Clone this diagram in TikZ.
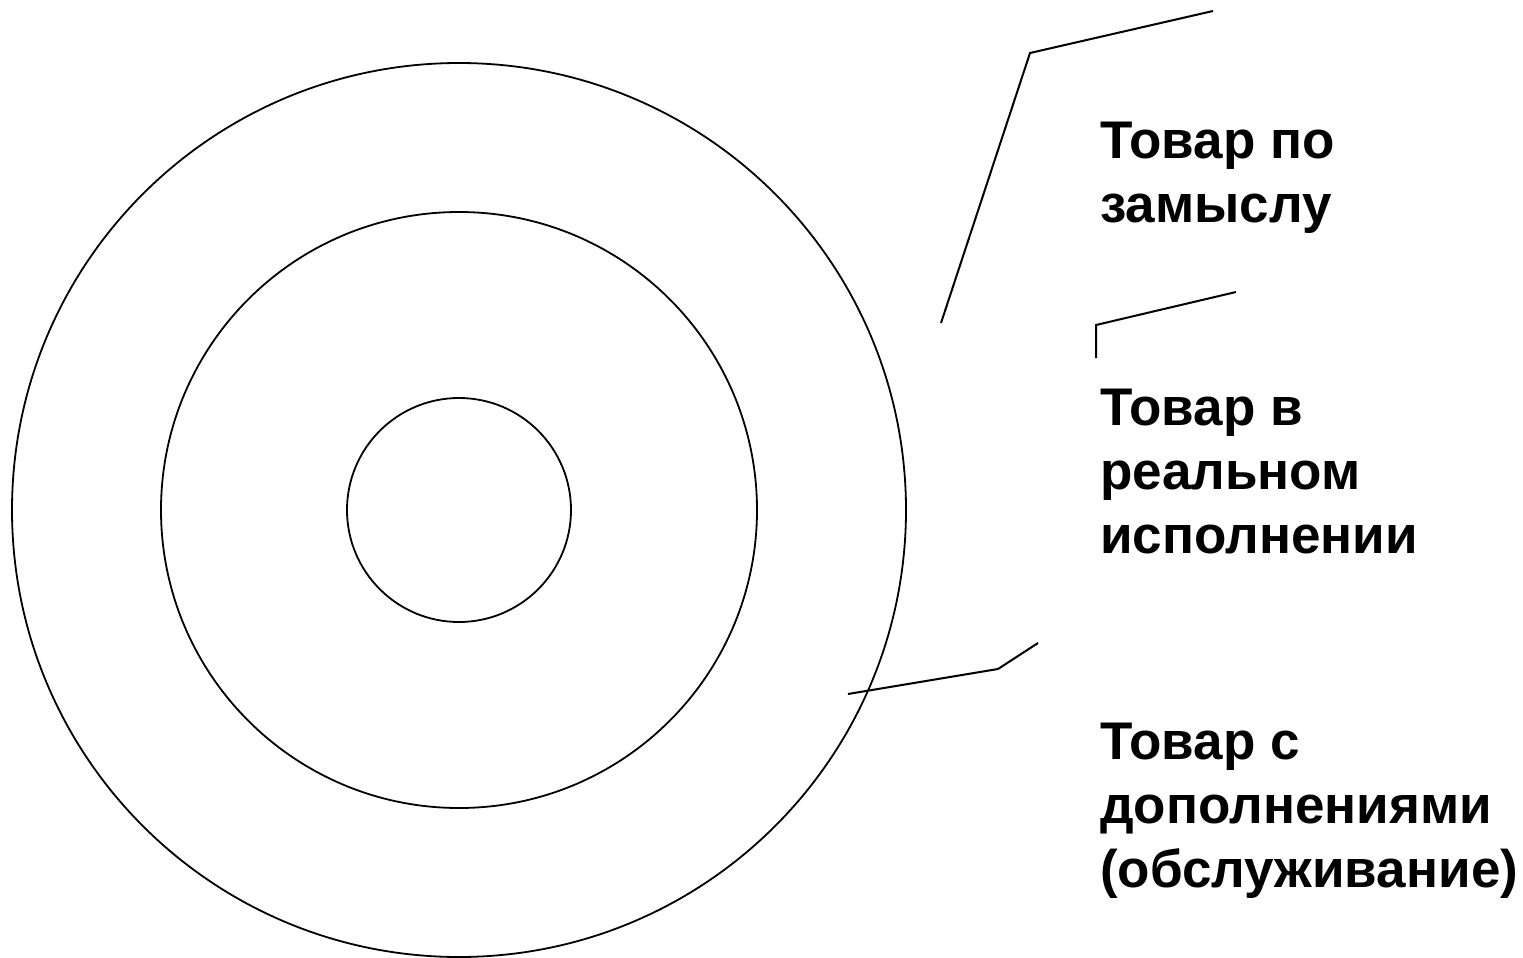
\documentclass[tikz,border=0pt]{standalone}
\usepackage{fontspec}
\setmainfont{Liberation Sans}
\begin{document}
\begin{tikzpicture}[x=1pt,y=-1pt,
  ring/.style={draw=black,line width=1.8pt},
  leader/.style={draw=black,line width=2pt,line join=miter},
  label/.style={anchor=base west,inner sep=0pt,align=left,
    font=\fontsize{53}{64}\selectfont\bfseries}]
\useasboundingbox (0,0) rectangle (1523,958);
% concentric product levels
\node[ring,circle,minimum size=894pt,inner sep=0pt] (outer) at (459,510) {};
\node[ring,circle,minimum size=596pt,inner sep=0pt] (middle) at (459,510) {};
\node[ring,circle,minimum size=224pt,inner sep=0pt] (core) at (459,510) {};
% captions (anchored at the baseline of their last line)
\node[label] (idea) at (1100,222) {Товар по\\замыслу};
\node[label] (real) at (1100,553) {Товар в\\реальном\\исполнении};
\node[label] (extra) at (1100,887) {Товар с\\дополнениями\\(обслуживание)};
% leader lines
\coordinate (a1) at (941,323);
\coordinate (a2) at (1030,53);
\coordinate (a3) at (1213,11);
\draw[leader] (a1) -- (a2) -- (a3);
\coordinate (b1) at (1096,358);
\coordinate (b2) at (1096,325);
\coordinate (b3) at (1236,292);
\draw[leader] (b1) -- (b2) -- (b3);
\coordinate (c1) at (848,694);
\coordinate (c2) at (998,669);
\coordinate (c3) at (1038,643);
\draw[leader] (c1) -- (c2) -- (c3);
\end{tikzpicture}
\end{document}
